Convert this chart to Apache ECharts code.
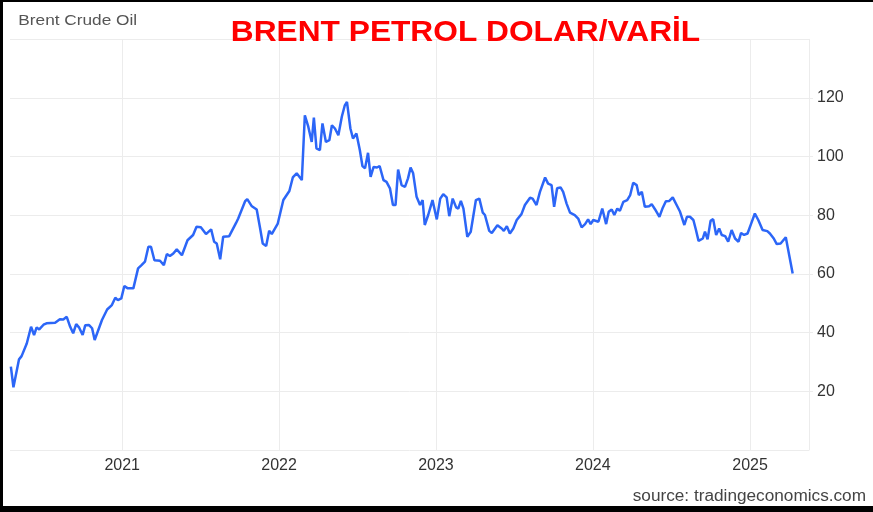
<!DOCTYPE html>
<html>
<head>
<meta charset="utf-8">
<title>Brent Crude Oil</title>
<script src="https://cdn.jsdelivr.net/npm/echarts@6/dist/echarts.min.js"></script>
<style>
  html, body { margin: 0; padding: 0; background: #000; }
  #frame { position: relative; width: 873px; height: 512px; background: #000; }
  #main { position: absolute; left: 3px; top: 2px; width: 870px; height: 504px; background: #fff; }
</style>
</head>
<body>
<div id="frame"><div id="main"></div></div>
<script>
// weekly-ish Brent closes
var dates = [
  '2020-04-17','2020-04-23','2020-05-06','2020-05-12','2020-05-24','2020-06-03','2020-06-10','2020-06-16',
  '2020-06-22','2020-07-02','2020-07-09','2020-07-29','2020-08-09','2020-08-17','2020-08-25','2020-09-02',
  '2020-09-09','2020-09-16','2020-09-23','2020-10-01','2020-10-07','2020-10-16','2020-10-23','2020-10-29',
  '2020-11-15','2020-11-27','2020-12-08','2020-12-16','2020-12-22','2020-12-30',
  '2021-01-06','2021-01-14','2021-01-27','2021-02-07','2021-02-15','2021-02-23','2021-03-03','2021-03-09',
  '2021-03-17','2021-03-30','2021-04-08','2021-04-15','2021-04-22','2021-04-30','2021-05-08','2021-05-12',
  '2021-05-20','2021-06-02','2021-06-15','2021-06-23','2021-07-03','2021-07-15','2021-07-27','2021-08-03',
  '2021-08-09','2021-08-17','2021-08-24','2021-09-07','2021-09-23','2021-09-28','2021-10-14','2021-10-19',
  '2021-10-29','2021-11-10','2021-11-18','2021-11-24','2021-12-02','2021-12-09','2021-12-15','2021-12-29',
  '2022-01-11','2022-01-25','2022-02-02','2022-02-11','2022-02-23','2022-03-02','2022-03-10','2022-03-18',
  '2022-03-23','2022-03-29','2022-04-06','2022-04-12','2022-04-20','2022-04-28','2022-05-04','2022-05-11',
  '2022-05-19','2022-05-27','2022-06-03','2022-06-08','2022-06-16','2022-06-22','2022-06-30','2022-07-08',
  '2022-07-14','2022-07-20','2022-07-27','2022-08-02','2022-08-09','2022-08-17','2022-08-23','2022-09-01',
  '2022-09-08','2022-09-16','2022-09-23','2022-09-29','2022-10-05','2022-10-13','2022-10-21','2022-10-28',
  '2022-11-03','2022-11-09','2022-11-17','2022-11-25','2022-12-01','2022-12-06','2022-12-14','2022-12-24',
  '2023-01-03','2023-01-11','2023-01-18','2023-01-26','2023-02-01','2023-02-09','2023-02-17','2023-02-22',
  '2023-02-28','2023-03-06','2023-03-15','2023-03-23','2023-04-04','2023-04-12','2023-04-20','2023-04-25',
  '2023-05-05','2023-05-11','2023-05-24','2023-06-03','2023-06-08','2023-06-15','2023-06-22','2023-06-30',
  '2023-07-08','2023-07-19','2023-07-27','2023-08-08','2023-08-14','2023-08-23','2023-08-31','2023-09-12',
  '2023-09-19','2023-09-27','2023-10-03','2023-10-10','2023-10-18','2023-10-24','2023-11-01','2023-11-09',
  '2023-11-20','2023-11-28','2023-12-06','2023-12-14','2023-12-21','2023-12-27',
  '2024-01-02','2024-01-14','2024-01-23','2024-02-01','2024-02-07','2024-02-14','2024-02-20','2024-02-27',
  '2024-03-04','2024-03-12','2024-03-21','2024-03-28','2024-04-04','2024-04-12','2024-04-17','2024-04-24',
  '2024-05-01','2024-05-11','2024-05-17','2024-05-25','2024-06-04','2024-06-11','2024-06-19','2024-06-27',
  '2024-07-05','2024-07-14','2024-07-22','2024-08-01','2024-08-07','2024-08-14','2024-08-22','2024-08-28',
  '2024-09-03','2024-09-13','2024-09-18','2024-09-24','2024-10-01','2024-10-07','2024-10-14','2024-10-21',
  '2024-10-27','2024-11-04','2024-11-11','2024-11-19','2024-11-27','2024-12-05','2024-12-11','2024-12-18',
  '2024-12-26',
  '2025-01-03','2025-01-12','2025-01-20','2025-01-30','2025-02-10','2025-02-16','2025-02-25','2025-03-04',
  '2025-03-13','2025-03-25','2025-04-10'
];
var prices = [
  28.4, 21.4, 30.9, 32.0, 36.3, 42.0, 39.2, 41.8,
  41.1, 42.7, 43.2, 43.4, 44.6, 44.5, 45.4, 42.0,
  39.8, 42.9, 41.7, 39.2, 42.5, 42.6, 41.5, 37.5,
  44.3, 47.9, 49.4, 51.9, 51.1, 51.7,
  55.9, 55.1, 55.1, 61.9, 63.0, 64.2, 69.3, 69.3,
  64.7, 64.5, 63.0, 66.8, 66.1, 67.0, 68.4, 68.5,
  66.4, 71.5, 73.3, 76.1, 75.9, 73.6, 75.2, 71.0,
  70.4, 65.0, 72.7, 72.9, 77.4, 78.9, 84.8, 85.5,
  83.2, 82.0, 75.5, 70.4, 69.5, 74.7, 73.6, 77.2,
  85.2, 88.3, 92.9, 94.3, 92.0, 114.1, 110.2, 105.0,
  113.3, 102.8, 102.2, 111.3, 105.0, 105.6, 110.7, 109.6,
  107.3, 113.6, 117.5, 118.7, 109.6, 106.2, 107.9, 102.2,
  96.8, 96.0, 101.3, 93.1, 96.5, 96.3, 96.8, 92.0,
  91.4, 89.2, 83.5, 83.5, 95.6, 90.3, 89.7, 92.6,
  96.3, 94.3, 86.3, 83.5, 85.2, 76.7, 80.1, 85.2,
  78.6, 85.7, 87.2, 86.1, 79.7, 85.7, 82.7, 82.3,
  84.9, 82.3, 72.7, 74.4, 85.2, 85.7, 80.9, 80.1,
  74.7, 74.0, 76.6, 75.5, 74.7, 76.3, 73.8, 75.5,
  78.4, 80.4, 83.5, 86.0, 85.7, 83.5, 88.0, 92.9,
  90.8, 90.3, 82.9, 89.2, 89.5, 88.0, 84.0, 80.9,
  80.1, 78.9, 75.9, 77.0, 78.6, 77.0,
  78.4, 77.8, 82.3, 77.0, 81.2, 82.0, 80.1, 82.3,
  81.5, 84.6, 85.2, 86.9, 91.1, 90.3, 86.9, 88.0,
  82.9, 83.1, 83.8, 82.0, 79.5, 82.3, 84.8, 84.9,
  86.1, 83.5, 81.2, 76.7, 79.5, 79.5, 78.4, 75.0,
  71.3, 72.1, 74.4, 71.8, 78.1, 78.7, 73.3, 75.5,
  73.3, 72.9, 71.0, 75.0, 72.1, 71.0, 74.0, 73.3,
  73.8,
  77.0, 80.6, 78.4, 75.0, 74.6, 73.8, 72.1, 70.2,
  70.4, 72.5, 60.2
];
var yTicks = [0, 20, 40, 60, 80, 100, 120, 140];

var series_data = [];
for (var i = 0; i < dates.length; i++) {
    series_data.push([dates[i], prices[i]]);
}

var myChart = echarts.init(document.getElementById('main'));
var option = {
    animation: false,
    backgroundColor: '#fff',
    textStyle: { fontFamily: 'Liberation Sans, Arial, sans-serif' },
    grid: { left: 7, right: 64, top: 37.3, bottom: 56 },
    xAxis: {
        type: 'time',
        min: '2020-04-15',
        max: '2025-05-18',
        minInterval: 365 * 24 * 3600 * 1000,
        axisLine: { show: false },
        axisTick: { show: false },
        axisLabel: {
            color: '#333',
            fontSize: 16,
            margin: 8,
            formatter: '{yyyy}',
            showMinLabel: false,
            showMaxLabel: false
        },
        splitLine: {
            show: true,
            showMinLine: false,
            showMaxLine: false,
            lineStyle: { color: '#ececec', width: 1 }
        }
    },
    yAxis: {
        type: 'value',
        position: 'right',
        min: yTicks[0],
        max: yTicks[yTicks.length - 1],
        interval: 20,
        axisLine: { show: true, lineStyle: { color: '#ececec' } },
        axisTick: { show: true, length: 4, lineStyle: { color: '#ececec' } },
        axisLabel: {
            color: '#333',
            fontSize: 16,
            margin: 8,
            showMinLabel: false,
            showMaxLabel: false
        },
        splitLine: { show: true, lineStyle: { color: '#ececec', width: 1 } }
    },
    series: [{
        name: 'Brent Crude Oil',
        type: 'line',
        data: series_data,
        showSymbol: false,
        smooth: false,
        lineStyle: { color: '#2c66f7', width: 2.5 },
        itemStyle: { color: '#2c66f7' }
    }],
    graphic: [
        {
            type: 'text', x: 15.3, y: 18.5, z: 100, scaleX: 1.15,
            style: {
                text: 'Brent Crude Oil', fill: '#555',
                font: '15px "Liberation Sans", Arial, sans-serif',
                textAlign: 'left', textVerticalAlign: 'middle'
            }
        },
        {
            type: 'text', x: 462.5, y: 30.5, z: 100, scaleX: 1.056,
            style: {
                text: 'BRENT PETROL DOLAR/VARİL', fill: '#ff0000',
                font: 'bold 30px "Liberation Sans", Arial, sans-serif',
                textAlign: 'center', textVerticalAlign: 'middle'
            }
        },
        {
            type: 'text', x: 863, y: 494.7, z: 100, scaleX: 1.075,
            style: {
                text: 'source: tradingeconomics.com', fill: '#444',
                font: '16px "Liberation Sans", Arial, sans-serif',
                textAlign: 'right', textVerticalAlign: 'middle'
            }
        }
    ]
};
myChart.setOption(option);
</script>
</body>
</html>
